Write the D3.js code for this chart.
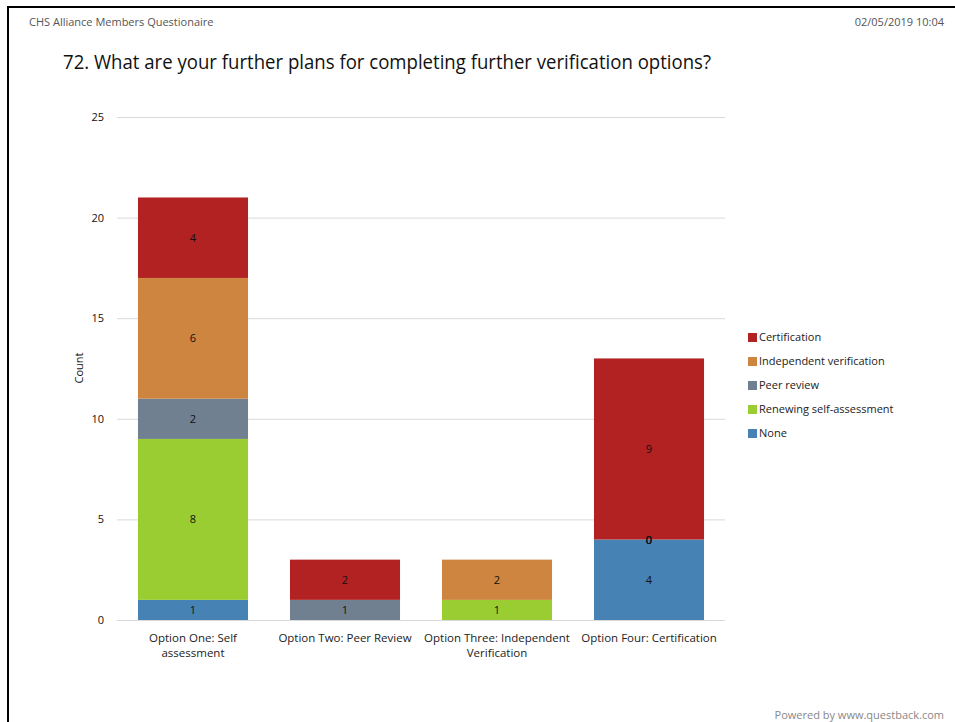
<!DOCTYPE html>
<html>
<head>
<meta charset="utf-8">
<script src="https://cdn.jsdelivr.net/npm/d3@7/dist/d3.min.js"></script>
<style>
  html, body { margin: 0; padding: 0; background: #fff; }
  svg text { font-family: "Open Sans", "Noto Sans", sans-serif; }
</style>
</head>
<body>
<svg id="chart" width="955" height="722"></svg>
<script>
// ── Data ───────────────────────────────────────────────
const categories = [
  ['Option One: Self', 'assessment'],
  ['Option Two: Peer Review'],
  ['Option Three: Independent', 'Verification'],
  ['Option Four: Certification']
];
// stack order bottom → top
const seriesNames  = ['None', 'Renewing self-assessment', 'Peer review', 'Independent verification', 'Certification'];
const seriesColors = ['#4682b4', '#9acd32', '#708090', '#cd853f', '#b22222'];
// null = no answer / no label; 0 = explicit zero label
const noneVals        = [1, null, null, 4];
const renewingVals    = [8, null, 1, 0];
const peerVals        = [2, 1, null, 0];
const independentVals = [6, null, 2, 0];
const certVals        = [4, 2, null, 9];
const yTicks = [0, 5, 10, 15, 20, 25];

const seriesVals = [noneVals, renewingVals, peerVals, independentVals, certVals];

// ── Layout ─────────────────────────────────────────────
const svg = d3.select('#chart');
const plot = { left: 117, right: 725, top: 117, bottom: 620 };

const x = d3.scaleBand()
  .domain(d3.range(categories.length))
  .range([plot.left, plot.right])
  .paddingInner(0.276)
  .paddingOuter(0.138);

const y = d3.scaleLinear().domain([0, 25]).range([plot.bottom, plot.top]);

// frame
svg.append('path')
  .attr('d', 'M8,722 V7 H955')
  .attr('fill', 'none').attr('stroke', '#000').attr('stroke-width', 2);

// header
svg.append('text').attr('x', 29).attr('y', 26)
  .attr('font-size', 11).attr('fill', '#555')
  .text('CHS Alliance Members Questionaire');
svg.append('text').attr('x', 944).attr('y', 26)
  .attr('font-size', 11).attr('fill', '#555').attr('text-anchor', 'end')
  .text('02/05/2019 10:04');

// title
svg.append('text').attr('x', 63).attr('y', 69)
  .attr('font-size', 20).attr('fill', '#111')
  .attr('textLength', 648).attr('lengthAdjust', 'spacingAndGlyphs')
  .text('72. What are your further plans for completing further verification options?');

// gridlines + y axis labels
const yAxis = d3.axisLeft(y).tickValues(yTicks).tickSize(-(plot.right - plot.left)).tickPadding(13);
const gy = svg.append('g').attr('transform', `translate(${plot.left},0)`).call(yAxis);
gy.select('.domain').remove();
gy.selectAll('.tick line').attr('stroke', '#d9d9d9').attr('stroke-width', 1);
gy.selectAll('.tick text').attr('font-size', 11).attr('fill', '#111')
  .style('font-family', '"Open Sans", sans-serif');

// y title
svg.append('text')
  .attr('transform', 'translate(83,368) rotate(-90)')
  .attr('text-anchor', 'middle').attr('font-size', 11).attr('fill', '#111')
  .text('Count');

// stacked bars
const stacks = categories.map((c, i) => {
  let acc = 0;
  return seriesVals.map((vals, s) => {
    const v = vals[i];
    const y0 = acc;
    if (v != null) acc += v;
    return { cat: i, s, v, y0, y1: acc };
  });
});

const gBars = svg.append('g');
stacks.forEach(col => {
  col.forEach(d => {
    if (d.v == null || d.v === 0) return;
    gBars.append('rect')
      .attr('x', x(d.cat)).attr('width', x.bandwidth())
      .attr('y', y(d.y1)).attr('height', y(d.y0) - y(d.y1))
      .attr('fill', seriesColors[d.s]);
  });
});
stacks.forEach(col => {
  col.forEach(d => {
    if (d.v == null) return;
    gBars.append('text')
      .attr('x', x(d.cat) + x.bandwidth() / 2)
      .attr('y', y((d.y0 + d.y1) / 2) + 4)
      .attr('text-anchor', 'middle').attr('font-size', 11).attr('fill', '#111')
      .text(d.v);
  });
});

// x labels
categories.forEach((lines, i) => {
  const t = svg.append('text')
    .attr('x', x(i) + x.bandwidth() / 2).attr('y', 642)
    .attr('text-anchor', 'middle').attr('font-size', 11.5).attr('fill', '#222');
  lines.forEach((ln, k) => {
    t.append('tspan').attr('x', x(i) + x.bandwidth() / 2).attr('dy', k ? 15 : 0).text(ln);
  });
});

// legend (top → bottom reversed order)
const legendOrder = d3.range(seriesNames.length).reverse();
legendOrder.forEach((s, k) => {
  const ly = 337 + k * 24;
  svg.append('rect').attr('x', 748).attr('y', ly - 4).attr('width', 9).attr('height', 9)
    .attr('fill', seriesColors[s]);
  svg.append('text').attr('x', 759).attr('y', ly + 4)
    .attr('font-size', 11).attr('fill', '#222')
    .text(seriesNames[s]);
});

// footer
svg.append('text').attr('x', 944).attr('y', 719)
  .attr('font-size', 11).attr('fill', '#888').attr('text-anchor', 'end')
  .text('Powered by www.questback.com');
</script>
</body>
</html>
